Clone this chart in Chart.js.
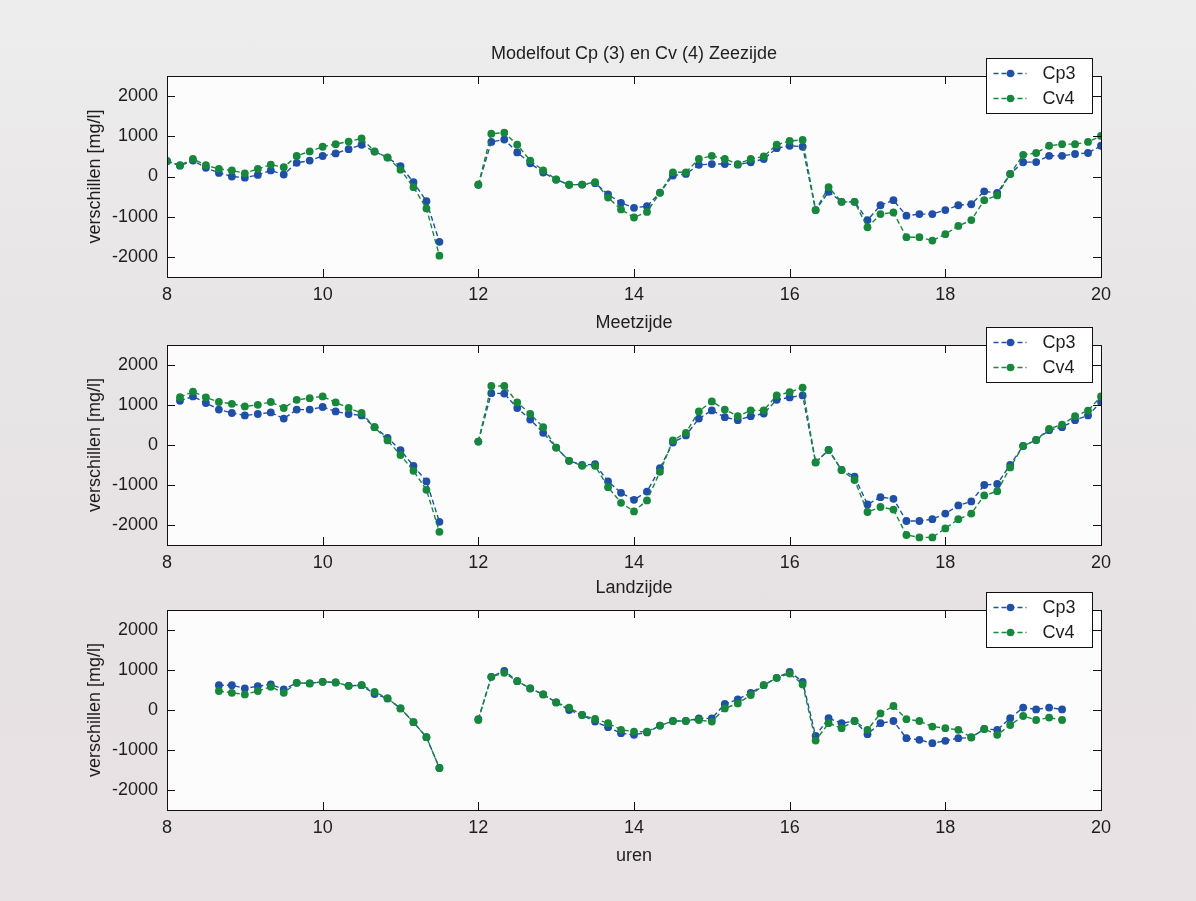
<!DOCTYPE html>
<html>
<head>
<meta charset="utf-8">
<title>Modelfout Cp (3) en Cv (4)</title>
<script src="https://cdn.jsdelivr.net/npm/chart.js@4.4.0/dist/chart.umd.min.js"></script>
<style>
  body {
    margin: 0;
    width: 1196px;
    height: 901px;
    overflow: hidden;
    position: relative;
    background: linear-gradient(to bottom, #eeeded 0px, #e8e6e6 280px, #e6e1e3 660px, #e8e2e4 901px);
  }
  .paneel {
    position: absolute;
    left: 0;
    width: 1196px;
  }
</style>
</head>
<body>
<div class="paneel" style="top:0;height:310px"><canvas id="zeezijde"></canvas></div>
<div class="paneel" style="top:300px;height:275px"><canvas id="meetzijde"></canvas></div>
<div class="paneel" style="top:565px;height:336px"><canvas id="landzijde"></canvas></div>

<script>
// meetmomenten, elke 10 minuten van 8:00 tot 20:00
const tijden = [
  "08:00", "08:10", "08:20", "08:30", "08:40", "08:50",
  "09:00", "09:10", "09:20", "09:30", "09:40", "09:50",
  "10:00", "10:10", "10:20", "10:30", "10:40", "10:50",
  "11:00", "11:10", "11:20", "11:30", "11:40", "11:50",
  "12:00", "12:10", "12:20", "12:30", "12:40", "12:50",
  "13:00", "13:10", "13:20", "13:30", "13:40", "13:50",
  "14:00", "14:10", "14:20", "14:30", "14:40", "14:50",
  "15:00", "15:10", "15:20", "15:30", "15:40", "15:50",
  "16:00", "16:10", "16:20", "16:30", "16:40", "16:50",
  "17:00", "17:10", "17:20", "17:30", "17:40", "17:50",
  "18:00", "18:10", "18:20", "18:30", "18:40", "18:50",
  "19:00", "19:10", "19:20", "19:30", "19:40", "19:50",
  "20:00"
];

// Zeezijde
const zeeCp3 = [
  380, 270, 395, 215, 90, 0, -30, 40, 150, 50, 340, 395,
  510, 575, 680, 790, 620, 470, 255, -140, -615, -1625, null, null,
  -205, 860, 920, 600, 330, 100, -80, -205, -200, -165, -445, -655,
  -780, -740, -400, 25, 65, 290, 310, 310, 295, 355, 435, 705,
  765, 740, -835, -380, -630, -630, -1085, -715, -590, -975, -935, -935,
  -835, -715, -690, -370, -410, 65, 355, 360, 515, 515, 560, 585,
  765
];
const zeeCv4 = [
  390, 280, 435, 280, 190, 150, 80, 190, 295, 230, 510, 625,
  740, 805, 870, 945, 625, 475, 170, -265, -795, -1970, null, null,
  -205, 1065, 1090, 790, 395, 150, -75, -205, -200, -140, -525, -820,
  -1020, -880, -405, 105, 105, 435, 515, 435, 310, 435, 500, 790,
  885, 910, -835, -265, -630, -630, -1265, -935, -895, -1510, -1510, -1595,
  -1435, -1230, -1085, -590, -470, 65, 540, 585, 765, 805, 805, 860,
  1010
];

// Meetzijde
const meetCp3 = [
  null, 1105, 1215, 1050, 885, 800, 740, 775, 815, 660, 885, 885,
  950, 840, 775, 740, 445, 180, -130, -520, -910, -1920, null, null,
  85, 1295, 1285, 925, 635, 305, -65, -395, -500, -480, -910, -1195,
  -1370, -1165, -580, 60, 240, 660, 865, 695, 620, 720, 785, 1130,
  1190, 1240, -435, -125, -625, -790, -1485, -1305, -1345, -1900, -1900, -1855,
  -1715, -1510, -1410, -1000, -975, -495, -25, 125, 370, 445, 620, 740,
  1075
];
const meetCv4 = [
  null, 1195, 1335, 1190, 1075, 1030, 965, 1005, 1075, 925, 1130, 1170,
  1215, 1065, 925, 800, 445, 115, -250, -645, -1120, -2170, null, null,
  85, 1475, 1475, 1065, 775, 445, -65, -395, -520, -520, -1055, -1445,
  -1660, -1385, -670, 115, 305, 840, 1090, 885, 720, 865, 865, 1240,
  1320, 1435, -435, -125, -625, -875, -1675, -1550, -1615, -2250, -2310, -2310,
  -2085, -1855, -1715, -1260, -1155, -560, -25, 125, 405, 510, 720, 860,
  1215
];

// Landzijde
const landCp3 = [
  null, null, null, null, 620, 620, 540, 595, 640, 515, 680, 665,
  705, 690, 605, 620, 400, 290, 40, -305, -680, -1450, null, null,
  -230, 830, 980, 720, 540, 390, 190, 0, -125, -290, -430, -580,
  -620, -560, -390, -275, -275, -210, -210, 150, 265, 430, 620, 805,
  955, 705, -645, -205, -330, -275, -605, -330, -275, -705, -745, -830,
  -770, -705, -690, -475, -495, -205, 60, 15, 60, 15, null, null,
  null
];
const landCv4 = [
  null, null, null, null, 475, 430, 390, 475, 580, 430, 680, 665,
  705, 690, 605, 620, 455, 290, 40, -305, -680, -1450, null, null,
  -250, 830, 930, 720, 540, 390, 190, 60, -125, -225, -330, -495,
  -540, -540, -390, -275, -275, -250, -290, 40, 165, 375, 620, 805,
  910, 640, -765, -330, -455, -275, -495, -85, 100, -230, -275, -415,
  -455, -495, -680, -475, -620, -375, -150, -250, -190, -250, null, null,
  null
];

const xTicks = [8, 10, 12, 14, 16, 18, 20];
const yTicks = [-2000, -1000, 0, 1000, 2000];

const uren = tijden.map(function (t) {
  const [h, m] = t.split(":").map(Number);
  return h + m / 60;
});

const blauw = "#1f4fa6";
const groen = "#17873b";
const tekst = "#1e1e1e";
const lettertype = "'Liberation Sans', Arial, sans-serif";

Chart.defaults.font.family = lettertype;
Chart.defaults.font.size = 18;
Chart.defaults.color = tekst;

// witte plotvlak, kader met ticks naar binnen en legenda met rand
const kaderPlugin = {
  id: "kader",
  beforeDraw(chart) {
    const a = chart.chartArea;
    const ctx = chart.ctx;
    ctx.save();
    ctx.fillStyle = "#fcfcfc";
    ctx.fillRect(a.left, a.top, a.right - a.left, a.bottom - a.top);
    ctx.restore();
  },
  afterDraw(chart) {
    const a = chart.chartArea;
    const ctx = chart.ctx;
    const tl = 8;
    ctx.save();
    ctx.strokeStyle = "#111";
    ctx.lineWidth = 1;
    ctx.strokeRect(a.left + 0.5, a.top + 0.5, a.right - a.left, a.bottom - a.top);
    ctx.beginPath();
    chart.scales.x.ticks.forEach(function (t) {
      const px = Math.round(chart.scales.x.getPixelForValue(t.value)) + 0.5;
      ctx.moveTo(px, a.top);
      ctx.lineTo(px, a.top + tl);
      ctx.moveTo(px, a.bottom);
      ctx.lineTo(px, a.bottom - tl);
    });
    chart.scales.y.ticks.forEach(function (t) {
      const py = Math.round(chart.scales.y.getPixelForValue(t.value)) + 0.5;
      ctx.moveTo(a.left, py);
      ctx.lineTo(a.left + tl, py);
      ctx.moveTo(a.right, py);
      ctx.lineTo(a.right - tl, py);
    });
    ctx.stroke();

    // legenda
    const bx = Math.round(a.right - 115) + 0.5;
    const by = Math.round(a.top - 18) + 0.5;
    ctx.fillStyle = "#ffffff";
    ctx.fillRect(bx, by, 106, 55);
    ctx.strokeStyle = "#111";
    ctx.strokeRect(bx, by, 106, 55);
    const volgorde = chart.data.datasets.slice().sort(function (p, q) { return p.legendaIndex - q.legendaIndex; });
    volgorde.forEach(function (ds, i) {
      const ly = by + 15 + i * 25;
      ctx.strokeStyle = ds.borderColor;
      ctx.lineWidth = 1.4;
      ctx.setLineDash([5, 3]);
      ctx.beginPath();
      ctx.moveTo(bx + 7, ly);
      ctx.lineTo(bx + 40, ly);
      ctx.stroke();
      ctx.setLineDash([]);
      ctx.fillStyle = ds.backgroundColor;
      ctx.beginPath();
      ctx.arc(bx + 24, ly, 3.8, 0, Math.PI * 2);
      ctx.fill();
      ctx.fillStyle = tekst;
      ctx.font = "18px " + lettertype;
      ctx.textBaseline = "middle";
      ctx.textAlign = "left";
      ctx.fillText(ds.label, bx + 56, ly + 1);
    });
    ctx.restore();
  },
};

function reeks(label, waarden, kleur, volg, legendaIndex) {
  return {
    label: label,
    data: uren.map(function (x, i) { return { x: x, y: waarden[i] }; }),
    borderColor: kleur,
    backgroundColor: kleur,
    borderWidth: 1.4,
    borderDash: [5, 3],
    pointRadius: 3.9,
    pointBorderWidth: 0,
    pointStyle: "circle",
    spanGaps: false,
    tension: 0,
    order: volg,
    legendaIndex: legendaIndex,
  };
}

function maakGrafiek(id, titel, cp3, cv4, p) {
  const ctx = document.getElementById(id).getContext("2d");
  return new Chart(ctx, {
    type: "line",
    data: {
      datasets: [
        reeks("Cp3", cp3, blauw, 2, 0),
        reeks("Cv4", cv4, groen, 1, 1),
      ],
    },
    options: {
      responsive: true,
      maintainAspectRatio: false,
      animation: false,
      layout: { padding: { left: 0, right: 95, top: 0, bottom: 0 } },
      plugins: {
        legend: { display: false },
        tooltip: { enabled: false },
        title: {
          display: true,
          text: titel,
          fullSize: false,
          color: tekst,
          font: { size: 18, weight: "normal" },
          padding: { top: p.titelBoven, bottom: p.titelOnder },
        },
      },
      scales: {
        x: {
          type: "linear",
          min: 8,
          max: 20,
          grid: { display: false, drawTicks: false },
          border: { display: false },
          afterBuildTicks: function (s) {
            s.ticks = xTicks.map(function (v) { return { value: v }; });
          },
          afterFit: function (s) {
            s.height = p.xHoogte;
          },
          ticks: {
            padding: 7,
            maxRotation: 0,
            autoSkip: false,
            color: tekst,
            font: { size: 18 },
            callback: function (v) { return String(v); },
          },
          title: {
            display: !!p.xTitel,
            text: p.xTitel || "",
            color: tekst,
            font: { size: 18 },
            padding: { top: 0, bottom: 34 },
          },
        },
        y: {
          min: -2500,
          max: 2500,
          grid: { display: false, drawTicks: false },
          border: { display: false },
          afterBuildTicks: function (s) {
            s.ticks = yTicks.map(function (v) { return { value: v }; });
          },
          afterFit: function (s) {
            s.width = 167;
          },
          ticks: {
            padding: 9,
            color: tekst,
            font: { size: 18 },
            callback: function (v) { return String(v); },
          },
          title: {
            display: true,
            text: "verschillen [mg/l]",
            color: tekst,
            font: { size: 18 },
            padding: { top: 84, bottom: 0 },
          },
        },
      },
    },
    plugins: [kaderPlugin],
  });
}

maakGrafiek("zeezijde", "Modelfout Cp (3) en Cv (4) Zeezijde", zeeCp3, zeeCv4,
  { titelBoven: 43, titelOnder: 11.4, xHoogte: 33 });
maakGrafiek("meetzijde", "Meetzijde", meetCp3, meetCv4,
  { titelBoven: 12, titelOnder: 11.4, xHoogte: 30 });
maakGrafiek("landzijde", "Landzijde", landCp3, landCv4,
  { titelBoven: 12, titelOnder: 11.4, xHoogte: 91, xTitel: "uren" });
</script>
</body>
</html>
